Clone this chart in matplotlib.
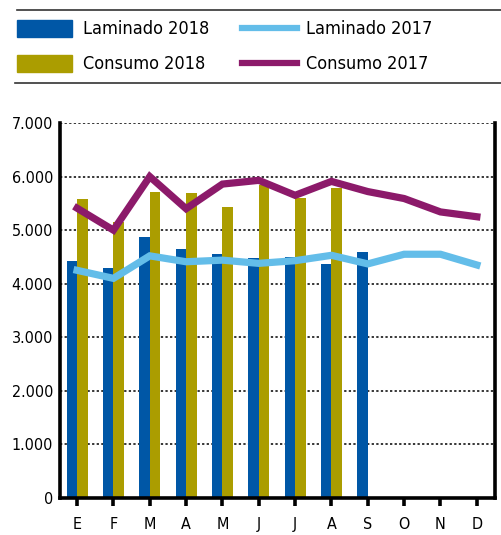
import numpy as np
import matplotlib
matplotlib.use("Agg")
import matplotlib.pyplot as plt
from matplotlib.patches import Rectangle
from matplotlib.lines import Line2D
from matplotlib.ticker import FuncFormatter

plt.rcParams['font.family'] = ['DejaVu Sans']
plt.rcParams['font.stretch'] = 'condensed'

# data
months = ["E", "F", "M", "A", "M", "J", "J", "A", "S", "O", "N", "D"]
laminado_2018 = [4420, 4300, 4870, 4650, 4560, 4480, 4500, 4370, 4600]
consumo_2018 = [5590, 5150, 5710, 5700, 5430, 5850, 5600, 5780]
laminado_2017 = [4250, 4100, 4520, 4410, 4440, 4380, 4430, 4530, 4370, 4550, 4550, 4350]
consumo_2017 = [5410, 5000, 6000, 5400, 5860, 5930, 5650, 5910, 5720, 5590, 5340, 5250]

c_lam18 = "#0057a6"
c_con18 = "#ab9d00"
c_lam17 = "#63bde9"
c_con17 = "#8c1a6a"

W, H = 501, 535
fig = plt.figure(figsize=(W / 100, H / 100), dpi=100)
ax = fig.add_axes([60 / W, 1 - 498 / H, 435 / W, 375 / H])

x = np.arange(len(months))
bw = 0.29
ax.bar(x[:len(laminado_2018)] - bw / 2, laminado_2018, width=bw, color=c_lam18, zorder=2)
ax.bar(x[:len(consumo_2018)] + bw / 2, consumo_2018, width=bw, color=c_con18, zorder=2)
ax.plot(x, laminado_2017, color=c_lam17, lw=5.2, zorder=3, solid_joinstyle='miter')
ax.plot(x, consumo_2017, color=c_con17, lw=5.2, zorder=3, solid_joinstyle='miter')

ax.set_xlim(-0.47, 11.5)
ax.set_ylim(0, 7000)
ax.set_yticks(np.arange(0, 7001, 1000))
ax.yaxis.set_major_formatter(FuncFormatter(lambda v, p: f"{int(v):,}".replace(",", ".")))
ax.set_xticks(x)
ax.set_xticklabels(months)
ax.grid(axis='y', color='black', linestyle=(0, (1.5, 1.5)), lw=1.1, zorder=0)
ax.set_axisbelow(True)

for s in ['left', 'bottom', 'right']:
    ax.spines[s].set_linewidth(2.6)
    ax.spines[s].set_color('black')
ax.spines['top'].set_visible(False)
ax.tick_params(axis='y', length=0, labelsize=11.5, pad=5)
ax.tick_params(axis='x', length=6, width=2.6, labelsize=11.5, pad=8)

# legend
fig.add_artist(Line2D([17 / W, 1], [1 - 10 / H] * 2, color='#333333', lw=1.2))
fig.add_artist(Line2D([15 / W, 1], [1 - 83 / H] * 2, color='#333333', lw=1.2))
fig.add_artist(Rectangle((17 / W, 1 - 37 / H), 55 / W, 17 / H, color=c_lam18, transform=fig.transFigure))
fig.add_artist(Rectangle((17 / W, 1 - 72 / H), 55 / W, 17 / H, color=c_con18, transform=fig.transFigure))
fig.add_artist(Line2D([242 / W, 297 / W], [1 - 28 / H] * 2, color=c_lam17, lw=4.5))
fig.add_artist(Line2D([242 / W, 297 / W], [1 - 63 / H] * 2, color=c_con17, lw=4.5))
fig.text(83 / W, 1 - 29 / H, "Laminado 2018", fontsize=13, va='center')
fig.text(83 / W, 1 - 64 / H, "Consumo 2018", fontsize=13, va='center')
fig.text(306 / W, 1 - 29 / H, "Laminado 2017", fontsize=13, va='center')
fig.text(306 / W, 1 - 64 / H, "Consumo 2017", fontsize=13, va='center')

fig.savefig("out.png", dpi=100)
